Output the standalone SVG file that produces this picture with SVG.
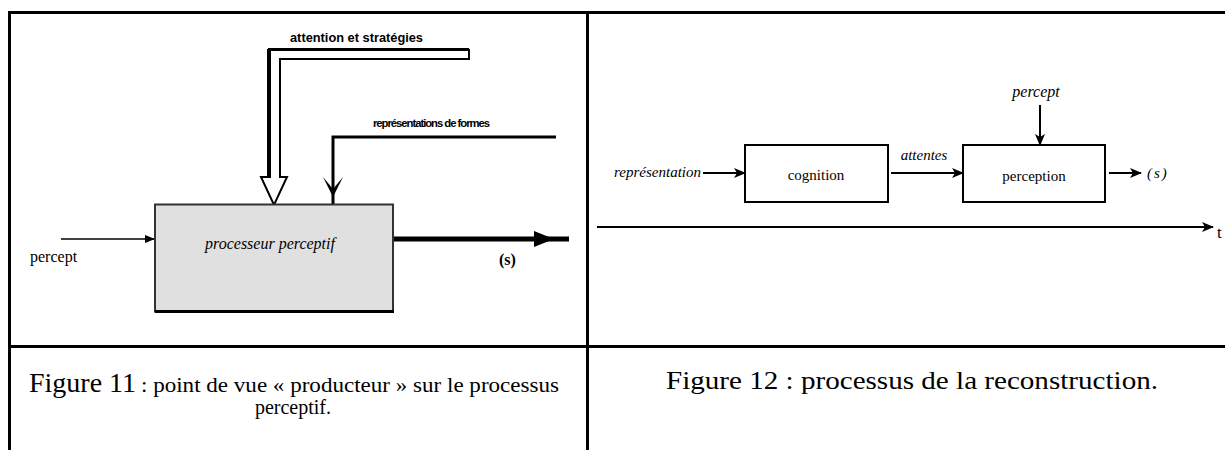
<svg xmlns="http://www.w3.org/2000/svg" width="1225" height="450" viewBox="0 0 1225 450">
<style>
.frame{stroke:#000;stroke-width:3;fill:none}
.ln{stroke:#000;fill:none}
.serif{font-family:"Liberation Serif","Times New Roman",serif;fill:#000}
.sans{font-family:"Liberation Sans",Arial,sans-serif;fill:#000;font-weight:bold}
.it{font-style:italic}
.box2{fill:#fff;stroke:#000;stroke-width:2}
</style>
<defs>
<marker id="barb" viewBox="0 0 12 10" refX="11" refY="5" markerWidth="12" markerHeight="10" markerUnits="userSpaceOnUse" orient="auto">
<path d="M0,0 L12,5 L0,10 L3,5 Z" fill="#000"/>
</marker>
<marker id="tri" viewBox="0 0 10 8" refX="10" refY="4" markerWidth="10" markerHeight="8" markerUnits="userSpaceOnUse" orient="auto">
<path d="M0,0 L10,4 L0,8 Z" fill="#000"/>
</marker>
</defs>
<rect width="1225" height="450" fill="#fff"/>
<g id="frame">
<line class="frame" x1="8" y1="12.5" x2="1225" y2="12.5"/>
<line class="frame" x1="9.5" y1="11" x2="9.5" y2="450"/>
<line class="frame" x1="587.5" y1="11" x2="587.5" y2="450"/>
<line class="frame" x1="8" y1="346.5" x2="1225" y2="346.5"/>
</g>
<g id="connectors">
<path d="M469,50 L270,50 L270,177 L261,177 L274,205 L287,177 L280,177 L280,59 L469,59 Z" fill="#fff" stroke="#000" stroke-width="2"/>
<line class="ln" x1="269" y1="49" x2="269" y2="178" stroke-width="4"/>
<line class="ln" x1="268" y1="49.5" x2="469" y2="49.5" stroke-width="3"/>
<path d="M556,137 L333,137 L333,204" class="ln" stroke-width="3"/>
<path d="M323,177 L333,197 L343,177 L333,189 Z" fill="#000"/>
<line class="ln" x1="61" y1="239" x2="155" y2="239" stroke-width="1.5" marker-end="url(#tri)"/>
<line class="ln" x1="394" y1="239" x2="569" y2="239" stroke-width="5"/>
<path d="M534,231 L554,239 L534,247 Z" fill="#000"/>
<line class="ln" x1="703" y1="173" x2="745" y2="173" stroke-width="2" marker-end="url(#barb)"/>
<line class="ln" x1="891" y1="173" x2="963" y2="173" stroke-width="2" marker-end="url(#barb)"/>
<line class="ln" x1="1040" y1="105" x2="1040" y2="145" stroke-width="2" marker-end="url(#barb)"/>
<line class="ln" x1="1109" y1="173" x2="1141" y2="173" stroke-width="2" marker-end="url(#barb)"/>
<line class="ln" x1="597" y1="227" x2="1213" y2="227" stroke-width="2" marker-end="url(#barb)"/>
</g>
<g id="processeur">
<rect x="155" y="204.5" width="238" height="107" fill="#e0e0e0" stroke="#333" stroke-width="2"/>
<line class="ln" x1="155" y1="311.5" x2="394" y2="311.5" stroke-width="3"/>
<text class="serif it" x="270" y="249" font-size="16" text-anchor="middle">processeur perceptif</text>
</g>
<g id="labels-left">
<text class="sans" x="290" y="42" font-size="12" textLength="133" lengthAdjust="spacingAndGlyphs">attention et stratégies</text>
<text class="sans" x="373" y="127" font-size="11" textLength="116" lengthAdjust="spacingAndGlyphs" letter-spacing="-1">représentations de formes</text>
<text class="serif" x="30" y="262" font-size="16">percept</text>
<text class="serif" x="499" y="265" font-size="16" font-weight="bold">(s)</text>
</g>
<g id="cognition">
<rect class="box2" x="745" y="145" width="143" height="57"/>
<text class="serif" x="816" y="180" font-size="15" text-anchor="middle">cognition</text>
</g>
<g id="perception">
<rect class="box2" x="963" y="145" width="142" height="57"/>
<text class="serif" x="1034" y="181" font-size="15" text-anchor="middle">perception</text>
</g>
<g id="labels-right">
<text class="serif it" x="701" y="177" font-size="15" text-anchor="end">représentation</text>
<text class="serif it" x="924" y="160" font-size="15" text-anchor="middle">attentes</text>
<text class="serif it" x="1036" y="97" font-size="16" text-anchor="middle">percept</text>
<text class="serif it" x="1147" y="178" font-size="15" letter-spacing="2">(s)</text>
<text class="serif" x="1217" y="238" font-size="17">t</text>
</g>
<g id="captions">
<text class="serif" x="29" y="392" font-size="28">Figure 11</text>
<text class="serif" x="141" y="392" font-size="20" textLength="418" lengthAdjust="spacingAndGlyphs">: point de vue « producteur » sur le processus</text>
<text class="serif" x="293" y="414" font-size="20" text-anchor="middle">perceptif.</text>
<text class="serif" x="666" y="389" font-size="26" textLength="492" lengthAdjust="spacingAndGlyphs">Figure 12 : processus de la reconstruction.</text>
</g>
</svg>
